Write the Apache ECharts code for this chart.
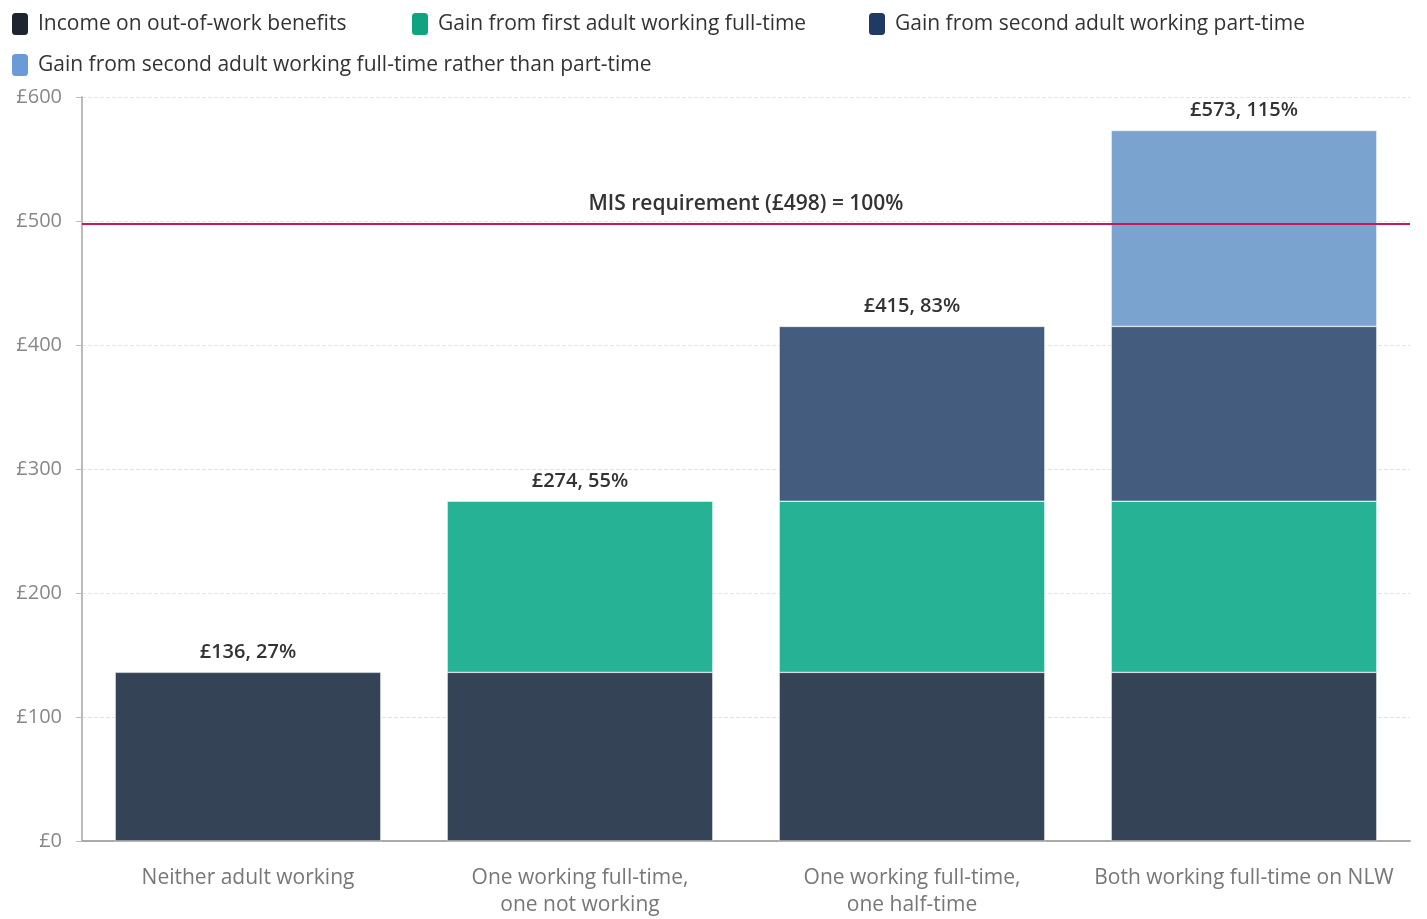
<!DOCTYPE html>
<html>
<head>
<meta charset="utf-8">
<script src="https://cdn.jsdelivr.net/npm/echarts@6/dist/echarts.min.js"></script>
<style>html,body{margin:0;padding:0;background:#fff;overflow:hidden;}#chart{width:1427px;height:919px;}</style>
</head>
<body>
<div id="chart"></div>
<script>
const categories = ['Neither adult working', 'One working full-time,\none not working', 'One working full-time,\none half-time', 'Both working full-time on NLW'];
const seriesNames = ['Income on out-of-work benefits', 'Gain from first adult working full-time', 'Gain from second adult working part-time', 'Gain from second adult working full-time rather than part-time'];
const outOfWork = [136, 136, 136, 136];
const firstFullTime = [null, 138, 138, 138];
const secondPartTime = [null, null, 141, 141];
const secondFullTime = [null, null, null, 158];
const totals = [136, 274, 415, 573];
const percents = [27, 55, 83, 115];
const misValue = 498;
const yTicks = [0, 100, 200, 300, 400, 500, 600];

const barColors = ['#344456', '#26b294', '#445d7e', '#7ba3d0'];
const legendColors = ['#1e2430', '#0fa47f', '#1f3a63', '#6b9bd6'];
const seriesData = [outOfWork, firstFullTime, secondPartTime, secondFullTime];
const font = 'Open Sans';

function topIndex(i) {
  let t = 0;
  seriesData.forEach((d, s) => { if (d[i] != null) t = s; });
  return t;
}

const series = seriesData.map((d, s) => ({
  name: seriesNames[s],
  type: 'bar',
  stack: 'total',
  barWidth: '80%',
  data: d,
  itemStyle: { color: barColors[s], borderColor: '#fff', borderWidth: 0.5 },
  label: {
    show: true,
    position: 'top',
    distance: 10,
    fontFamily: font,
    fontSize: 20,
    fontWeight: 600,
    color: '#333',
    formatter: p => topIndex(p.dataIndex) === s ? '£' + totals[p.dataIndex] + ', ' + percents[p.dataIndex] + '%' : ''
  },
  markLine: s === 0 ? {
    silent: true,
    symbol: 'none',
    data: [{ yAxis: misValue }],
    lineStyle: { color: '#c8175d', width: 2, type: 'solid' },
    label: {
      position: 'middle',
      formatter: 'MIS requirement (£' + misValue + ') = 100%',
      fontFamily: font, fontSize: 21, fontWeight: 600, color: '#333', distance: 9
    }
  } : undefined
}));

const legendPos = [[5, 6], [405, 6], [862, 6], [5, 47]];
const legends = seriesNames.map((n, i) => ({
  left: legendPos[i][0],
  top: legendPos[i][1],
  icon: 'roundRect',
  itemWidth: 18,
  itemHeight: 24,
  textStyle: { fontFamily: font, fontSize: 21, color: '#333', padding: [0, 0, 0, 4] },
  selectedMode: false,
  data: [{ name: n, itemStyle: { color: legendColors[i] } }]
}));

const chart = echarts.init(document.getElementById('chart'));
chart.setOption({
  animation: false,
  textStyle: { fontFamily: font },
  legend: legends,
  grid: { left: 82, right: 17, top: 97, bottom: 72, containLabel: false },
  xAxis: {
    type: 'category',
    data: categories,
    axisLine: { lineStyle: { color: '#aaa', width: 2 } },
    axisTick: { alignWithLabel: true, length: 8, lineStyle: { color: '#aaa' } },
    axisLabel: { interval: 0, fontFamily: font, fontSize: 21, color: '#777', margin: 24, lineHeight: 27 }
  },
  yAxis: {
    type: 'value',
    min: yTicks[0],
    max: yTicks[yTicks.length - 1],
    interval: 100,
    axisLine: { show: true, lineStyle: { color: '#bbb', width: 2 } },
    axisTick: { show: true, length: 6, lineStyle: { color: '#bbb' } },
    axisLabel: { fontFamily: font, fontSize: 20, color: '#888', margin: 20, formatter: v => '£' + v },
    splitLine: { lineStyle: { color: '#e4e4e4', type: 'dashed' } }
  },
  series: series
});
</script>
</body>
</html>
